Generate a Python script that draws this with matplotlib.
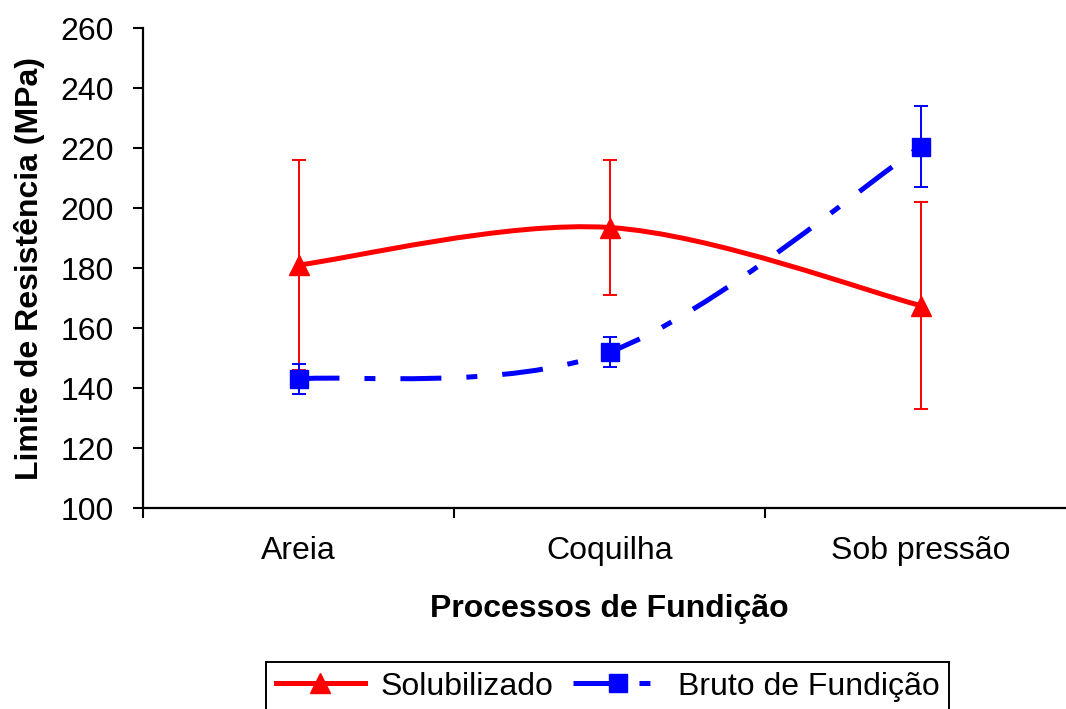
import matplotlib
matplotlib.use('Agg')
import matplotlib.pyplot as plt
from matplotlib.path import Path
from matplotlib.patches import PathPatch
from matplotlib.lines import Line2D
import numpy as np

plt.rcParams['font.family'] = ['Liberation Sans', 'DejaVu Sans']
plt.rcParams['lines.scale_dashes'] = False

# Tensile strength by casting process
processos = ["Areia", "Coquilha", "Sob pressão"]
solubilizado = [181, 193.5, 167.5]
solubilizado_err = [35, 22.5, 34.5]
bruto = [143, 152, 220.5]
bruto_err = [5, 5, 13.5]

RED = "#FF0000"
BLUE = "#0000FF"
DASH = (0, (29.5, 18, 7.9, 18))


def smooth_path(x, y):
    """Cubic Bezier through the points (Catmull-Rom style control points)."""
    p = np.column_stack([x, y]).astype(float)
    n = len(p)
    verts = [p[0]]
    codes = [Path.MOVETO]
    for i in range(n - 1):
        prev = p[i - 1] if i > 0 else p[i]
        nxt = p[i + 2] if i + 2 < n else p[i + 1]
        c1 = p[i] + (p[i + 1] - prev) / 6
        c2 = p[i + 1] - (nxt - p[i]) / 6
        verts += [c1, c2, p[i + 1]]
        codes += [Path.CURVE4] * 3
    return Path(verts, codes)


fig = plt.figure(figsize=(10.66, 7.09), dpi=100)
ax = fig.add_axes([143 / 1066, 201 / 709, 933 / 1066, 480 / 709])

x = np.arange(len(processos))

# smoothed series lines
ax.add_patch(PathPatch(smooth_path(x, bruto), fill=False, edgecolor=BLUE,
                       lw=3.6, linestyle=DASH, capstyle='butt', zorder=2))
ax.add_patch(PathPatch(smooth_path(x, solubilizado), fill=False, edgecolor=RED,
                       lw=3.6, capstyle='butt', zorder=3))

# markers + error bars
ax.errorbar(x, solubilizado, yerr=solubilizado_err, fmt='^', color=RED, ms=14,
            elinewidth=1.4, capsize=5, capthick=1.4, zorder=3)
ax.errorbar(x, bruto, yerr=bruto_err, fmt='s', color=BLUE, ms=13,
            elinewidth=1.4, capsize=5, capthick=1.4, zorder=4)

ax.set_xlim(-0.5, 2.5)
ax.set_ylim(100, 260)
ax.set_yticks(np.arange(100, 261, 20))
ax.set_xticks([-0.5, 0.5, 1.5, 2.5])
ax.set_xticklabels([])
ax.set_xticks(x, minor=True)
ax.set_xticklabels(processos, minor=True)

for s in ['top', 'right']:
    ax.spines[s].set_visible(False)
for s in ['left', 'bottom']:
    ax.spines[s].set_linewidth(1.6)

ax.tick_params(axis='both', which='major', direction='out', length=7.2,
               width=1.5, labelsize=23)
ax.tick_params(axis='y', pad=14)
ax.tick_params(axis='x', which='minor', length=0, labelsize=23, pad=20)

fig.text(30 / 1066, 1 - 268 / 709, "Limite de Resistência (MPa)", rotation=90,
         ha='center', va='center', fontsize=23, fontweight='bold')
fig.text(609 / 1066, 1 - 617 / 709, "Processos de Fundição",
         ha='center', va='baseline', fontsize=23, fontweight='bold')

handles = [
    Line2D([], [], color=RED, lw=3.6, marker='^', ms=14),
    Line2D([], [], color=BLUE, lw=3.6, marker='s', ms=13, linestyle=DASH,
           dash_capstyle='butt'),
]
leg = fig.legend(handles, ["Solubilizado", "Bruto de Fundição"], ncol=2,
                 loc='upper center', bbox_to_anchor=(607.5 / 1066, 1 - 662 / 709),
                 fontsize=23, fancybox=False, edgecolor='black', framealpha=1,
                 handlelength=2.8, handletextpad=0.47, columnspacing=0.63,
                 borderpad=0.3, borderaxespad=0)
leg.get_frame().set_linewidth(1.4)

fig.savefig("out.png", dpi=100)
